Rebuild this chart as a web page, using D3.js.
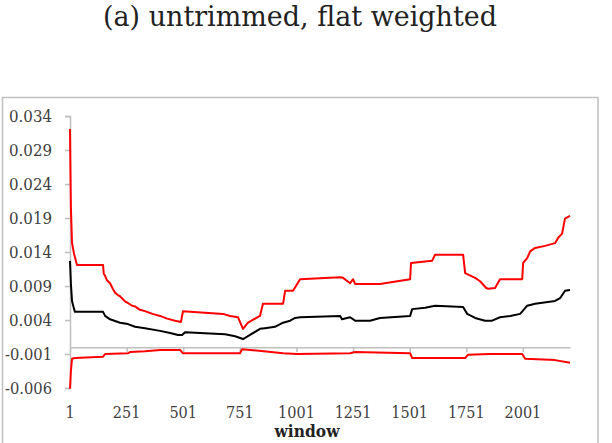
<!DOCTYPE html>
<html>
<head>
<meta charset="utf-8">
<script src="https://cdn.jsdelivr.net/npm/d3@7"></script>
<style>
  body { margin: 0; background: #fff; }
  text { font-family: "DejaVu Serif", serif; }
</style>
</head>
<body>
<svg id="chart"></svg>
<script>
// chart data
const titleText = "(a) untrimmed, flat weighted";
const xTicks = [1, 251, 501, 751, 1001, 1251, 1501, 1751, 2001];
const yTicks = [-0.006, -0.001, 0.004, 0.009, 0.014, 0.019, 0.024, 0.029, 0.034];
const xLabel = "window";

// upper bound (red)
const upperWin = [1, 3, 5, 10, 19, 32, 147, 150, 156, 165, 178, 190, 200, 215, 222, 245, 257, 275, 288, 310, 332, 365, 399, 430, 465, 491, 500, 677, 708, 743, 765, 787, 818, 840, 853, 942, 951, 986, 1017, 1149, 1194, 1207, 1238, 1251, 1260, 1370, 1503, 1507, 1600, 1613, 1737, 1746, 1790, 1812, 1839, 1848, 1878, 1900, 1945, 1998, 2002, 2020, 2033, 2055, 2099, 2143, 2157, 2174, 2187, 2209];
const upperVal = [0.0321, 0.0259, 0.0205, 0.0153, 0.0137, 0.0121, 0.0121, 0.0108, 0.0105, 0.0098, 0.0094, 0.0086, 0.0080, 0.0076, 0.0075, 0.0067, 0.0065, 0.0061, 0.0060, 0.0055, 0.0053, 0.0049, 0.0046, 0.0042, 0.0039, 0.0037, 0.0053, 0.0049, 0.0046, 0.0044, 0.0027, 0.0036, 0.0042, 0.0046, 0.0064, 0.0064, 0.0083, 0.0083, 0.0100, 0.0102, 0.0103, 0.0102, 0.0094, 0.0100, 0.0093, 0.0093, 0.0100, 0.0124, 0.0127, 0.0136, 0.0136, 0.0109, 0.0102, 0.0097, 0.0087, 0.0086, 0.0087, 0.0100, 0.0100, 0.0100, 0.0124, 0.0131, 0.0141, 0.0146, 0.0149, 0.0153, 0.0161, 0.0167, 0.0189, 0.0193];

// mean (black)
const meanWin = [1, 5, 10, 19, 23, 147, 156, 178, 222, 257, 288, 332, 399, 443, 478, 496, 509, 686, 730, 765, 796, 840, 862, 906, 942, 973, 995, 1017, 1194, 1202, 1238, 1260, 1326, 1370, 1503, 1512, 1569, 1613, 1737, 1755, 1790, 1834, 1865, 1900, 1945, 1989, 2020, 2055, 2143, 2165, 2187, 2209];
const meanVal = [0.0127, 0.0093, 0.0068, 0.0056, 0.0052, 0.0052, 0.0046, 0.0041, 0.0036, 0.0034, 0.0030, 0.0028, 0.0024, 0.0021, 0.0018, 0.0018, 0.0022, 0.0019, 0.0016, 0.0012, 0.0018, 0.0027, 0.0028, 0.0030, 0.0036, 0.0039, 0.0043, 0.0044, 0.0046, 0.0041, 0.0044, 0.0039, 0.0039, 0.0043, 0.0046, 0.0056, 0.0058, 0.0061, 0.0059, 0.0049, 0.0043, 0.0039, 0.0039, 0.0044, 0.0046, 0.0049, 0.0061, 0.0064, 0.0068, 0.0072, 0.0083, 0.0084];

// lower bound (red)
const lowerWin = [1, 5, 10, 23, 147, 156, 257, 266, 332, 399, 487, 500, 752, 761, 796, 942, 1004, 1238, 1260, 1503, 1512, 1746, 1759, 1856, 1998, 2011, 2143, 2209];
const lowerVal = [-0.0061, -0.0035, -0.0017, -0.0016, -0.0014, -0.0010, -0.0009, -0.0007, -0.0006, -0.0004, -0.0004, -0.0009, -0.0009, -0.0003, -0.0004, -0.0009, -0.0010, -0.0009, -0.0007, -0.0009, -0.0016, -0.0016, -0.0011, -0.0010, -0.0010, -0.0017, -0.0019, -0.0023];

const width = 612;
const height = 443;
const plot = { left: 70, right: 570, top: 116, bottom: 388 };
const axisColor = "#bfbfbf";
const labelColor = "#404040";

let svg = d3.select('#chart')
    .attr('width', width)
    .attr('height', height);

// title
svg.append('text')
    .attr('x', 103)
    .attr('y', 26)
    .attr('textLength', 394)
    .attr('lengthAdjust', 'spacingAndGlyphs')
    .style('font-size', '27px')
    .attr('fill', '#222')
    .text(titleText);

// chart box
svg.append('rect')
    .attr('x', 2.5)
    .attr('y', 97.5)
    .attr('width', 595.5)
    .attr('height', 360)
    .attr('fill', 'none')
    .attr('stroke', axisColor)
    .attr('stroke-width', 1.5);

const xScale = d3.scaleLinear()
    .domain([1, 2209])
    .range([plot.left, plot.right]);

const yScale = d3.scaleLinear()
    .domain([-0.006, 0.034])
    .range([plot.bottom, plot.top]);

// y axis
let yAxis = svg.append('g')
    .attr('transform', `translate(${plot.left},0)`)
    .call(d3.axisLeft(yScale)
        .tickValues(yTicks)
        .tickSize(5)
        .tickPadding(13)
        .tickFormat(d => d.toFixed(3)));

yAxis.select('.domain').attr('stroke', axisColor).attr('stroke-width', 1.5);
yAxis.selectAll('.tick line').attr('stroke', axisColor).attr('stroke-width', 1.5);
yAxis.selectAll('.tick text')
    .attr('fill', labelColor)
    .attr('textLength', d => d < 0 ? 47 : 43)
    .attr('lengthAdjust', 'spacingAndGlyphs')
    .style('font-size', '16px')
    .style('font-family', '"DejaVu Serif", serif');

// x axis sits on zero
let xAxis = svg.append('g')
    .attr('transform', `translate(0,${yScale(0)})`)
    .call(d3.axisBottom(xScale)
        .tickValues(xTicks)
        .tickSize(5)
        .tickSizeOuter(0)
        .tickFormat(d => ""));

xAxis.select('.domain').attr('stroke', axisColor).attr('stroke-width', 1.5);
xAxis.selectAll('.tick line').attr('stroke', axisColor).attr('stroke-width', 1.5);

// x labels go at the bottom, not under the zero line
svg.selectAll('.xlab')
    .data(xTicks)
    .enter()
    .append('text')
    .attr('class', 'xlab')
    .attr('x', d => xScale(d))
    .attr('y', 418)
    .attr('text-anchor', 'middle')
    .attr('fill', labelColor)
    .attr('textLength', d => String(d).length * 9.2)
    .attr('lengthAdjust', 'spacingAndGlyphs')
    .style('font-size', '16px')
    .text(d => d);

svg.append('text')
    .attr('x', (plot.left + plot.right) / 2 - 13)
    .attr('y', 437)
    .attr('text-anchor', 'middle')
    .attr('fill', '#222')
    .attr('textLength', 65)
    .attr('lengthAdjust', 'spacingAndGlyphs')
    .style('font-size', '17px')
    .style('font-weight', 'bold')
    .text(xLabel);

const line = d3.line()
    .x(d => xScale(d[0]))
    .y(d => yScale(d[1]));

const series = [
    { win: lowerWin, val: lowerVal, color: '#ff0000' },
    { win: upperWin, val: upperVal, color: '#ff0000' },
    { win: meanWin, val: meanVal, color: '#000000' }
];

series.forEach(s => {
    svg.append('path')
        .datum(d3.zip(s.win, s.val))
        .attr('d', line)
        .attr('fill', 'none')
        .attr('stroke', s.color)
        .attr('stroke-width', 2)
        .attr('stroke-linejoin', 'round');
});
</script>
</body>
</html>
